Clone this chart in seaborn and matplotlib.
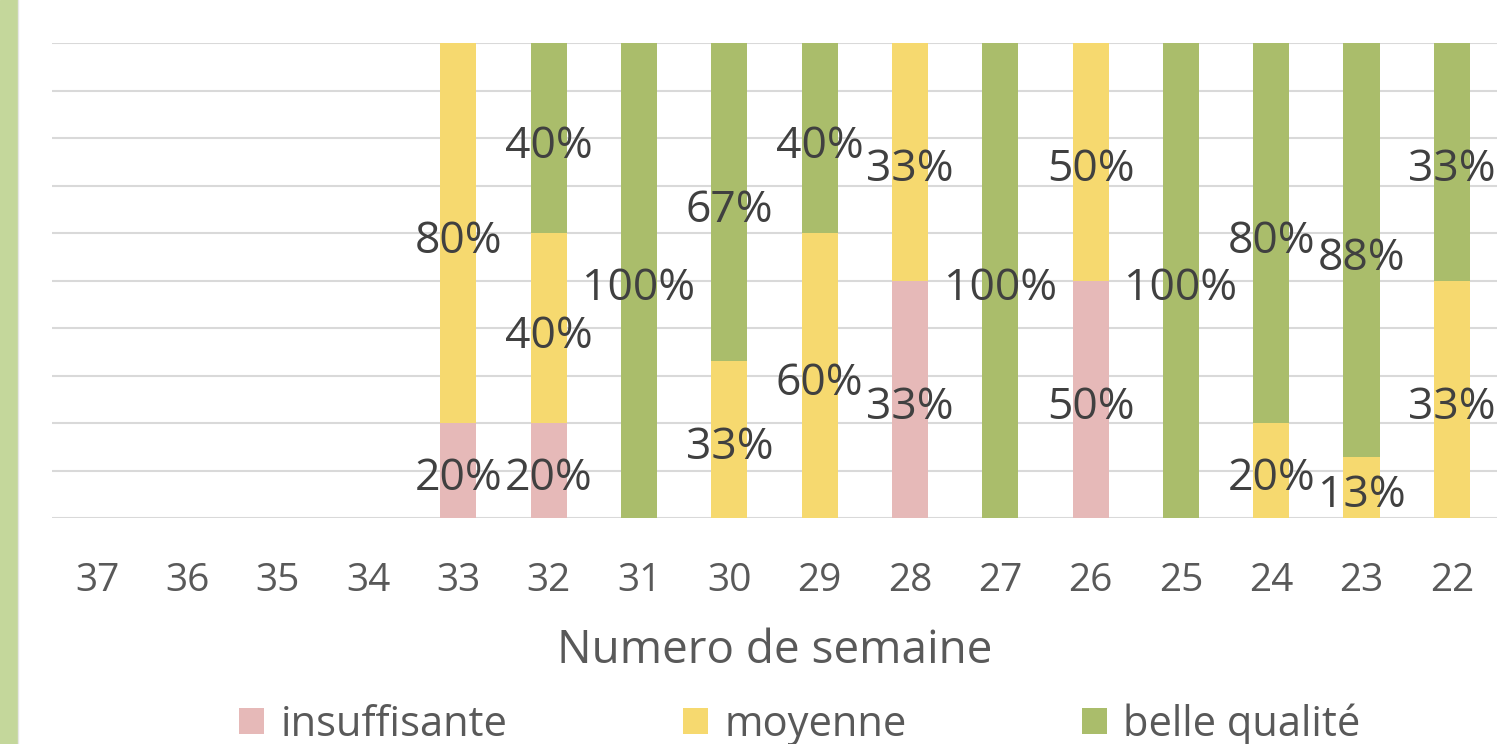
import matplotlib
matplotlib.use("Agg")
import matplotlib.pyplot as plt
import pandas as pd
import seaborn as sns
from matplotlib.patches import Patch, Rectangle
from matplotlib.lines import Line2D

# data (label values, bars are drawn as 100 % stacked)
semaines = ['37', '36', '35', '34', '33', '32', '31', '30',
            '29', '28', '27', '26', '25', '24', '23', '22']
insuffisante = [0, 0, 0, 0, 20, 20, 0, 0, 0, 33, 0, 50, 0, 0, 0, 0]
moyenne = [0, 0, 0, 0, 80, 40, 0, 33, 60, 33, 0, 50, 0, 20, 13, 33]
belle_qualite = [0, 0, 0, 0, 0, 40, 100, 67, 40, 0, 100, 0, 100, 80, 88, 33]

series = ['insuffisante', 'moyenne', 'belle qualité']
colors = ['#e6b9b8', '#f6d96f', '#aabd6b']

df = pd.DataFrame({'semaine': semaines, 'insuffisante': insuffisante,
                   'moyenne': moyenne, 'belle qualité': belle_qualite})
total = df[series].sum(axis=1).replace(0, 1)
pct = df[series].div(total, axis=0) * 100
cum = pct.cumsum(axis=1)
for s in series:
    df['cum_' + s] = cum[s]
    df['pct_' + s] = pct[s]

sns.set_style('white')
plt.rcParams['font.family'] = ['Open Sans', 'DejaVu Sans']

fig = plt.figure(figsize=(15.01, 7.44), dpi=100)
ax = fig.add_axes([52 / 1501, 1 - 518 / 744, 1445 / 1501, 475 / 744])

# tallest first so the lower segments sit on top
for s, c in zip(reversed(series), reversed(colors)):
    sns.barplot(data=df, x='semaine', y='cum_' + s, order=semaines, color=c,
                saturation=1, width=0.4, linewidth=0, ax=ax, zorder=2)

# data labels in segment centres (Excel puts them a little low)
for s in series:
    for i in range(len(semaines)):
        v = df.loc[i, s]
        if v > 0:
            bottom = df.loc[i, 'cum_' + s] - df.loc[i, 'pct_' + s]
            ax.annotate(f'{v}%', (i, bottom + df.loc[i, 'pct_' + s] / 2),
                        xytext=(0, -6), textcoords='offset points',
                        ha='center', va='center', fontsize=32, color='#404040',
                        zorder=5)

ax.set_ylim(0, 100)
ax.set_yticks(range(0, 101, 10))
ax.set_yticklabels([])
ax.yaxis.grid(True, color='#d9d9d9', linewidth=1.5, zorder=0)
ax.set_axisbelow(True)
for sp in ax.spines.values():
    sp.set_visible(False)
ax.tick_params(axis='both', length=0)
ax.tick_params(axis='x', labelsize=28, labelcolor='#595959', pad=32)
ax.set_ylabel('')
ax.set_xlabel('Numero de semaine', fontsize=33, color='#595959', labelpad=20)

# green border strip on the left
fig.patches.append(Rectangle((0, 0), 17 / 1501, 1, transform=fig.transFigure,
                             color='#c4d79b', zorder=0))
fig.lines.append(Line2D([18 / 1501, 18 / 1501], [0, 1], transform=fig.transFigure,
                        color='#e6e6e6', linewidth=1))

handles = [Patch(facecolor=c, edgecolor='none') for c in colors]
fig.legend(handles, series, loc='center', bbox_to_anchor=(0.533, 0.026), ncol=3,
           frameon=False, fontsize=30, labelcolor='#595959', handlelength=0.6,
           handleheight=0.6, handletextpad=0.4, columnspacing=4.2)

fig.savefig('out.png', dpi=100)
